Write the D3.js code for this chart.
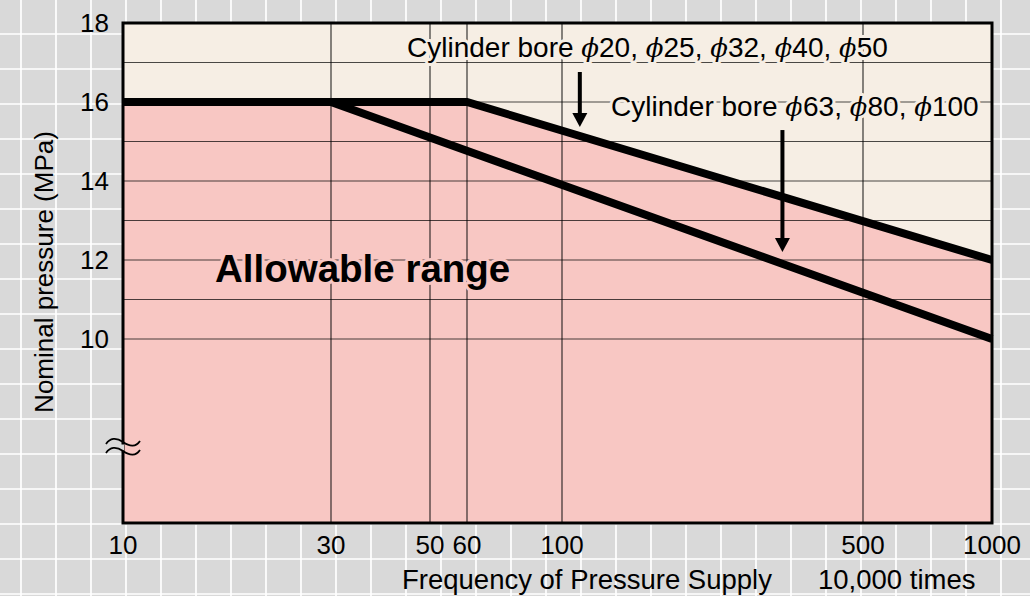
<!DOCTYPE html>
<html><head><meta charset="utf-8">
<script src="https://cdn.jsdelivr.net/npm/d3@7"></script>
<style>html,body{margin:0;padding:0;background:#d9d9d9;} svg{display:block;}</style>
</head><body><svg id="c" width="1030" height="596"></svg>
<script>
// ---- data ----
const xTicks = [10, 30, 50, 60, 100, 500, 1000];
const xGrid = [30, 50, 60, 100, 500];
const yTicks = [10, 12, 14, 16, 18];
const yGrid = [10, 11, 12, 13, 14, 15, 16, 17];
const smallBoreX = [10, 60, 1000];
const smallBoreP = [16, 16, 12];
const largeBoreX = [10, 30, 1000];
const largeBoreP = [16, 16, 10];
const smallBoreSizes = ["20", "25", "32", "40", "50"];
const largeBoreSizes = ["63", "80", "100"];

// ---- layout ----
const W = 1030, H = 596;
const L = 123, R = 992, T = 23, B = 523;
const bg = "#d9d9d9", beige = "#f6eee4", pink = "#f8c7c3";
const font = "'Liberation Sans', Arial, sans-serif";

const svg = d3.select("#c");
const x = d3.scaleLog().domain(xTicks).range([123, 331, 430, 467, 562, 863, 992]);
const y = d3.scaleLinear().domain([10, 18]).range([339, T]);

// background graph paper
svg.append("rect").attr("width", W).attr("height", H).attr("fill", bg);
const paper = svg.append("g").attr("stroke", "#ffffff").attr("stroke-width", 1.7);
paper.selectAll("line.v").data(d3.range(21, W, 35)).join("line")
  .attr("x1", d => d).attr("x2", d => d).attr("y1", 0).attr("y2", H);
paper.selectAll("line.h").data(d3.range(34, H + 1, 35)).join("line")
  .attr("y1", d => d).attr("y2", d => d).attr("x1", 0).attr("x2", W);

// plot area
svg.append("rect").attr("x", L).attr("y", T).attr("width", R - L).attr("height", B - T).attr("fill", beige);
const small = smallBoreX.map((v, i) => [v, smallBoreP[i]]);
const large = largeBoreX.map((v, i) => [v, largeBoreP[i]]);
svg.append("path")
  .attr("d", d3.area().x(d => x(d[0])).y0(B).y1(d => y(d[1]))(small))
  .attr("fill", pink);

// inner grid
const grid = svg.append("g");
grid.selectAll("line.h").data(yGrid).join("line")
  .attr("x1", L).attr("x2", R).attr("y1", d => y(d)).attr("y2", d => y(d))
  .attr("stroke", "#000").attr("stroke-opacity", 0.7).attr("stroke-width", 1.2);
grid.selectAll("line.v").data(xGrid).join("line")
  .attr("x1", d => x(d)).attr("x2", d => x(d)).attr("y1", T).attr("y2", B)
  .attr("stroke", "#000").attr("stroke-opacity", 0.85).attr("stroke-width", 1.1);

// series lines
const line = d3.line().x(d => x(d[0])).y(d => y(d[1]));
svg.append("g").selectAll("path").data([small, large]).join("path")
  .attr("d", line).attr("fill", "none").attr("stroke", "#000").attr("stroke-width", 8)
  .attr("stroke-linejoin", "miter");

// label helper with halo
function bore(g, xpos, ypos, sizes, halo) {
  const t = g.append("text").attr("x", xpos).attr("y", ypos)
    .attr("font-family", font).attr("font-size", 28).attr("fill", "#000")
    .attr("stroke", halo).attr("stroke-width", 6).attr("stroke-linejoin", "round")
    .style("paint-order", "stroke");
  t.append("tspan").text("Cylinder bore ");
  sizes.forEach((s, i) => {
    t.append("tspan").attr("font-family", "'DejaVu Serif', 'Liberation Serif', serif")
      .attr("font-style", "italic").attr("font-size", 26).text("ϕ");
    t.append("tspan").text(s + (i < sizes.length - 1 ? ", " : ""));
  });
}
const ann = svg.append("g");
bore(ann, 407, 57, smallBoreSizes, beige);
bore(ann, 611, 116, largeBoreSizes, beige);

ann.append("text").attr("x", 215).attr("y", 282)
  .attr("font-family", font).attr("font-size", 38.5).attr("font-weight", "bold")
  .attr("stroke", pink).attr("stroke-width", 6).attr("stroke-linejoin", "round")
  .style("paint-order", "stroke").text("Allowable range");

// arrows
function arrow(xv, p1, p2) {
  const ax = x(xv), y1 = y(p1), y2 = y(p2);
  ann.append("line").attr("x1", ax).attr("x2", ax).attr("y1", y1).attr("y2", y2 - 12)
    .attr("stroke", "#000").attr("stroke-width", 4);
  ann.append("path").attr("d", `M${ax - 7.5},${y2 - 14}L${ax + 7.5},${y2 - 14}L${ax},${y2}Z`).attr("fill", "#000");
}
arrow(110, 16.76, 15.37);
arrow(325, 15.29, 12.2);

// border
svg.append("rect").attr("x", L).attr("y", T).attr("width", R - L).attr("height", B - T)
  .attr("fill", "none").attr("stroke", "#000").attr("stroke-width", 3);

// axis break symbol
svg.append("rect").attr("x", 119).attr("y", 444.5).attr("width", 5).attr("height", 6).attr("fill", bg);
svg.selectAll("path.brk").data([0, 9]).join("path")
  .attr("d", d => `M106,${444 + d} C110,${438 + d} 116,${437 + d} 123,${442 + d} S136,${447 + d} 140,${441 + d}`)
  .attr("fill", "none").attr("stroke", "#000").attr("stroke-width", 1.8);

// tick labels
svg.append("g").selectAll("text").data(xTicks).join("text")
  .attr("x", d => x(d)).attr("y", 554).attr("text-anchor", "middle")
  .attr("font-family", font).attr("font-size", 26).text(d => d);
svg.append("g").selectAll("text").data(yTicks).join("text")
  .attr("x", 109).attr("y", d => y(d)).attr("dy", "0.36em").attr("text-anchor", "end")
  .attr("font-family", font).attr("font-size", 26).text(d => d);

// axis titles
svg.append("text").attr("x", 402).attr("y", 589).attr("font-family", font).attr("font-size", 27.5)
  .text("Frequency of Pressure Supply");
svg.append("text").attr("x", 818).attr("y", 589).attr("font-family", font).attr("font-size", 27.5)
  .text("10,000 times");
svg.append("text").attr("transform", "translate(53,272) rotate(-90)").attr("text-anchor", "middle")
  .attr("font-family", font).attr("font-size", 26).text("Nominal pressure (MPa)");
</script></body></html>
